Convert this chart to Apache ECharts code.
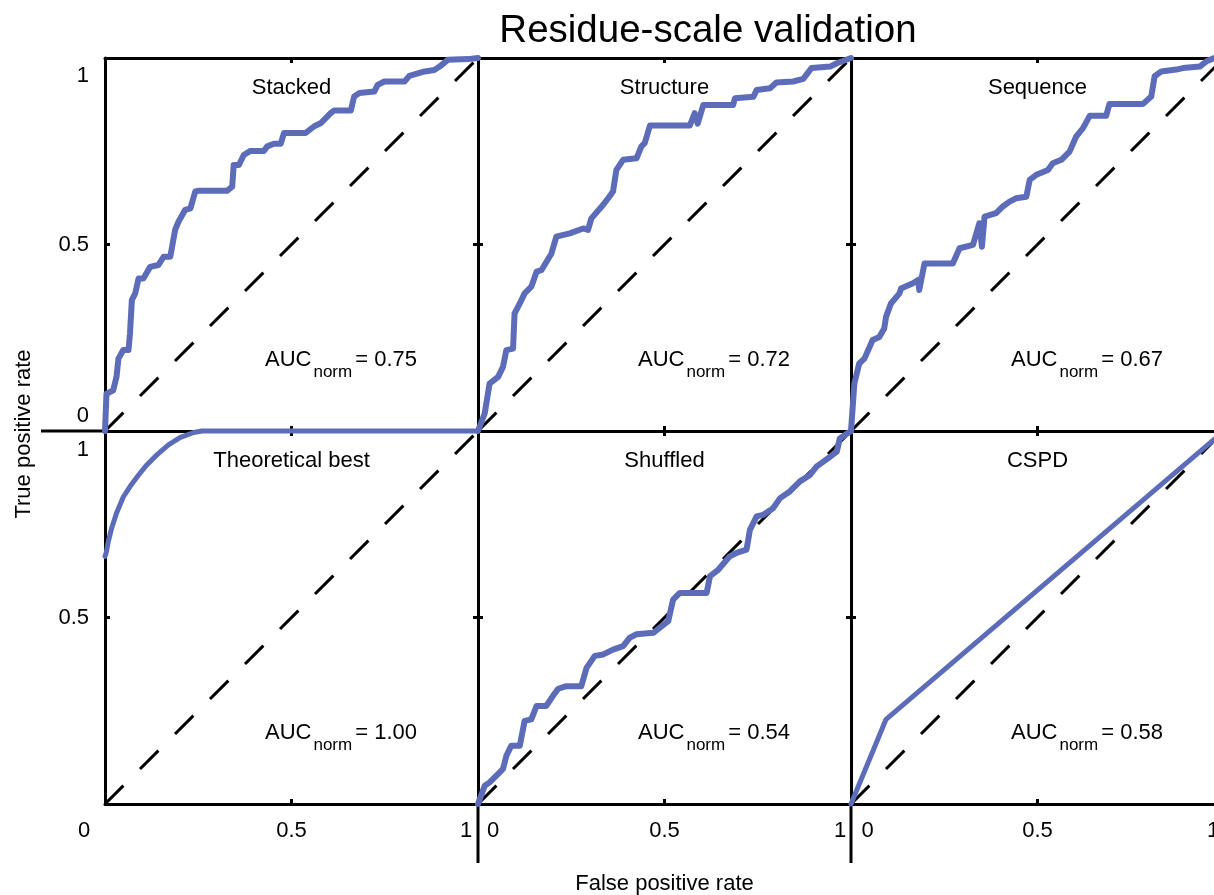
<!DOCTYPE html>
<html>
<head>
<meta charset="utf-8">
<title>Residue-scale validation</title>
<script src="https://cdn.jsdelivr.net/npm/echarts@6/dist/echarts.min.js"></script>
<style>
  html, body { margin: 0; padding: 0; background: #ffffff; }
  #chart { width: 1214px; height: 895px; }
</style>
</head>
<body>
<div id="chart"></div>
<script>
// ---- data -------------------------------------------------------------
const panelNames = ['Stacked', 'Structure', 'Sequence', 'Theoretical best', 'Shuffled', 'CSPD'];
const aucValues = ['0.75', '0.72', '0.67', '1.00', '0.54', '0.58'];
const tickValues = [0, 0.5, 1];
const tickLabels = ['0', '0.5', '1'];
const chanceLine = [[0, 0], [1, 1]];

// ROC curves as [false positive rate, true positive rate]
const stacked = [[0,0],[0.004,0.10],[0.022,0.109],[0.031,0.146],[0.036,0.194],[0.049,0.217],[0.063,0.217],[0.067,0.261],[0.072,0.351],[0.081,0.369],[0.090,0.409],[0.103,0.409],[0.121,0.44],[0.143,0.445],[0.157,0.467],[0.175,0.467],[0.188,0.539],[0.197,0.561],[0.215,0.593],[0.229,0.597],[0.242,0.642],[0.251,0.644],[0.327,0.644],[0.341,0.655],[0.345,0.713],[0.359,0.713],[0.372,0.740],[0.390,0.751],[0.426,0.751],[0.435,0.763],[0.453,0.770],[0.471,0.770],[0.480,0.799],[0.538,0.799],[0.561,0.817],[0.578,0.825],[0.605,0.852],[0.614,0.859],[0.659,0.859],[0.668,0.897],[0.682,0.906],[0.722,0.910],[0.731,0.928],[0.749,0.937],[0.803,0.937],[0.816,0.952],[0.857,0.964],[0.883,0.968],[0.897,0.977],[0.919,0.995],[0.973,0.997],[1,1]];
const structure = [[0,0],[0.018,0.047],[0.031,0.127],[0.054,0.145],[0.067,0.172],[0.076,0.217],[0.094,0.221],[0.098,0.315],[0.112,0.342],[0.125,0.369],[0.143,0.387],[0.157,0.427],[0.170,0.431],[0.197,0.476],[0.210,0.521],[0.246,0.530],[0.282,0.543],[0.295,0.539],[0.304,0.570],[0.331,0.601],[0.349,0.624],[0.362,0.642],[0.371,0.700],[0.389,0.727],[0.425,0.731],[0.438,0.763],[0.447,0.772],[0.461,0.819],[0.568,0.819],[0.581,0.852],[0.589,0.824],[0.604,0.874],[0.684,0.874],[0.689,0.892],[0.738,0.896],[0.747,0.914],[0.783,0.919],[0.800,0.934],[0.845,0.937],[0.872,0.944],[0.894,0.973],[0.944,0.977],[0.962,0.986],[1,1]];
const sequence = [[0,0],[0.009,0.127],[0.022,0.181],[0.036,0.194],[0.058,0.244],[0.076,0.252],[0.089,0.275],[0.094,0.306],[0.107,0.342],[0.130,0.369],[0.134,0.382],[0.166,0.396],[0.180,0.405],[0.183,0.378],[0.197,0.449],[0.273,0.449],[0.291,0.490],[0.327,0.499],[0.344,0.557],[0.351,0.494],[0.358,0.575],[0.389,0.584],[0.407,0.602],[0.425,0.615],[0.443,0.624],[0.470,0.628],[0.479,0.673],[0.497,0.687],[0.528,0.700],[0.541,0.718],[0.564,0.727],[0.586,0.749],[0.604,0.790],[0.622,0.812],[0.640,0.845],[0.684,0.845],[0.693,0.877],[0.783,0.877],[0.805,0.897],[0.814,0.951],[0.832,0.964],[0.872,0.969],[0.890,0.973],[0.935,0.977],[0.953,0.991],[0.974,1.0],[1,1]];
const theoreticalBest = [[0,0.664],[0.003,0.673],[0.009,0.704],[0.018,0.740],[0.031,0.780],[0.049,0.823],[0.067,0.851],[0.090,0.882],[0.112,0.909],[0.139,0.936],[0.170,0.963],[0.202,0.983],[0.238,0.996],[0.26,1],[1,1]];
const shuffled = [[0,0],[0.018,0.049],[0.031,0.058],[0.058,0.085],[0.067,0.094],[0.076,0.129],[0.089,0.156],[0.112,0.156],[0.125,0.223],[0.143,0.227],[0.157,0.263],[0.183,0.263],[0.201,0.290],[0.215,0.309],[0.237,0.316],[0.277,0.316],[0.291,0.365],[0.313,0.397],[0.336,0.401],[0.362,0.414],[0.389,0.423],[0.407,0.446],[0.425,0.455],[0.470,0.459],[0.487,0.472],[0.510,0.490],[0.523,0.548],[0.541,0.566],[0.613,0.566],[0.622,0.611],[0.644,0.628],[0.675,0.664],[0.693,0.673],[0.720,0.682],[0.729,0.735],[0.747,0.771],[0.764,0.775],[0.791,0.793],[0.810,0.820],[0.836,0.838],[0.863,0.865],[0.890,0.882],[0.908,0.905],[0.926,0.918],[0.944,0.931],[0.962,0.945],[0.970,0.980],[1,1]];
const cspd = [[0,0],[0.094,0.227],[1,1]];

const curves = [stacked, structure, sequence, theoreticalBest, shuffled, cspd];

// ---- layout & style ---------------------------------------------------
const FONT = "'Liberation Sans', Arial, Helvetica, sans-serif";
const CURVE_COLOR = '#5c6cb8';
const GRID_LEFT = 105, GRID_TOP = 58, CELL = 373;
const LINE_W = 3;

// extra padding that nudges individual tick labels inward, per tick index
const X_LABEL_PADS = [
  [[0, 42, 0, 0], null, [0, 24, 0, 0]],
  [[0, 0, 0, 30], null, [0, 22, 0, 0]],
  [[0, 0, 0, 33], null, [0, 22, 0, 0]]
];
const Y_LABEL_PADS = [
  [[0, 0, 30, 0], null, [36, 0, 0, 0]],
  ['hide', null, [38, 0, 0, 0]]
];

const labelFont = { fontFamily: FONT, fontSize: 22, color: '#000' };

function richLabels(pads) {
  const rich = {};
  tickValues.forEach((v, i) => {
    const p = pads[i];
    rich['t' + i] = Object.assign({}, labelFont, { padding: (p && p !== 'hide') ? p : [0, 0, 0, 0] });
  });
  return {
    rich,
    formatter: (v) => {
      const i = tickValues.indexOf(v);
      if (i < 0 || pads[i] === 'hide') return '';
      return '{t' + i + '|' + tickLabels[i] + '}';
    }
  };
}

function axisBase(position, labelConf) {
  const a = {
    type: 'value', min: 0, max: 1, interval: 0.5, position,
    axisLine: { show: true, onZero: false, lineStyle: { color: '#000', width: LINE_W } },
    axisTick: { show: true, inside: true, length: 5, lineStyle: { color: '#000', width: LINE_W } },
    splitLine: { show: false },
    axisLabel: { show: false }
  };
  if (labelConf) {
    a.axisLabel = Object.assign({
      show: true, showMinLabel: true, showMaxLabel: true, margin: 16,
      fontFamily: FONT, fontSize: 22, color: '#000'
    }, labelConf);
  }
  return a;
}

const grids = [], xAxes = [], yAxes = [], series = [], graphics = [];

for (let i = 0; i < 6; i++) {
  const row = Math.floor(i / 3), col = i % 3;
  const left = GRID_LEFT + col * CELL, top = GRID_TOP + row * CELL;
  grids.push({ left, top, width: CELL, height: CELL, containLabel: false, outerBoundsMode: 'none' });

  const xLabels = row === 1 ? richLabels(X_LABEL_PADS[col]) : null;
  const yLabels = col === 0 ? richLabels(Y_LABEL_PADS[row]) : null;
  xAxes.push(Object.assign(axisBase('bottom', xLabels), { gridIndex: i }));
  xAxes.push(Object.assign(axisBase('top', null), { gridIndex: i }));
  yAxes.push(Object.assign(axisBase('left', yLabels), { gridIndex: i }));
  yAxes.push(Object.assign(axisBase('right', null), { gridIndex: i }));

  // chance diagonal
  series.push({
    type: 'line', xAxisIndex: 2 * i, yAxisIndex: 2 * i,
    data: chanceLine, symbol: 'none', silent: true, clip: false, z: 2,
    lineStyle: { color: '#000', width: LINE_W, type: [26, 23.5], cap: 'butt' }
  });
  // ROC curve
  series.push({
    type: 'line', xAxisIndex: 2 * i, yAxisIndex: 2 * i,
    data: curves[i], symbol: 'none', silent: true, clip: false, z: 3,
    lineStyle: { color: CURVE_COLOR, width: (i === 3 || i === 5) ? 5 : 6, cap: 'round', join: 'round' }
  });

  // panel name
  graphics.push({
    type: 'text', x: left + CELL / 2, y: top + 29.5, silent: true,
    style: { text: panelNames[i], font: '22px ' + FONT, fill: '#000', align: 'center', verticalAlign: 'middle' }
  });
  // AUC annotation with subscript
  graphics.push({
    type: 'text', x: left + 160, y: top + 303.5, silent: true,
    style: {
      text: '{a|AUC}{s|norm}{a|= ' + aucValues[i] + '}',
      align: 'left', verticalAlign: 'middle', fill: '#000', font: '22px ' + FONT,
      rich: {
        a: { fontFamily: FONT, fontSize: 22, lineHeight: 26, verticalAlign: 'top', fill: '#000' },
        s: { fontFamily: FONT, fontSize: 17, lineHeight: 20, verticalAlign: 'top', padding: [15, 3, 0, 2], fill: '#000' }
      }
    }
  });
}

// frame lines that run past the panel block
const frameLine = { stroke: '#000', lineWidth: LINE_W };
graphics.push({ type: 'line', silent: true, shape: { x1: 41, y1: GRID_TOP + CELL, x2: GRID_LEFT, y2: GRID_TOP + CELL }, style: frameLine });
[1, 2].forEach(c => {
  const x = GRID_LEFT + c * CELL;
  graphics.push({ type: 'line', silent: true, shape: { x1: x, y1: GRID_TOP + 2 * CELL, x2: x, y2: 863 }, style: frameLine });
});

// figure title and axis titles
graphics.push({
  type: 'text', x: 708, y: 31, silent: true,
  style: { text: 'Residue-scale validation', font: '38.5px ' + FONT, fill: '#000', align: 'center', verticalAlign: 'middle' }
});
graphics.push({
  type: 'text', x: GRID_LEFT + 1.5 * CELL, y: 884, silent: true,
  style: { text: 'False positive rate', font: '22px ' + FONT, fill: '#000', align: 'center', verticalAlign: 'middle' }
});
graphics.push({
  type: 'text', x: 24, y: 434, rotation: Math.PI / 2, silent: true,
  style: { text: 'True positive rate', font: '22px ' + FONT, fill: '#000', align: 'center', verticalAlign: 'middle' }
});

const chart = echarts.init(document.getElementById('chart'), null, { renderer: 'canvas' });
chart.setOption({
  animation: false,
  backgroundColor: '#ffffff',
  grid: grids,
  xAxis: xAxes,
  yAxis: yAxes,
  series,
  graphic: graphics
});
</script>
</body>
</html>
